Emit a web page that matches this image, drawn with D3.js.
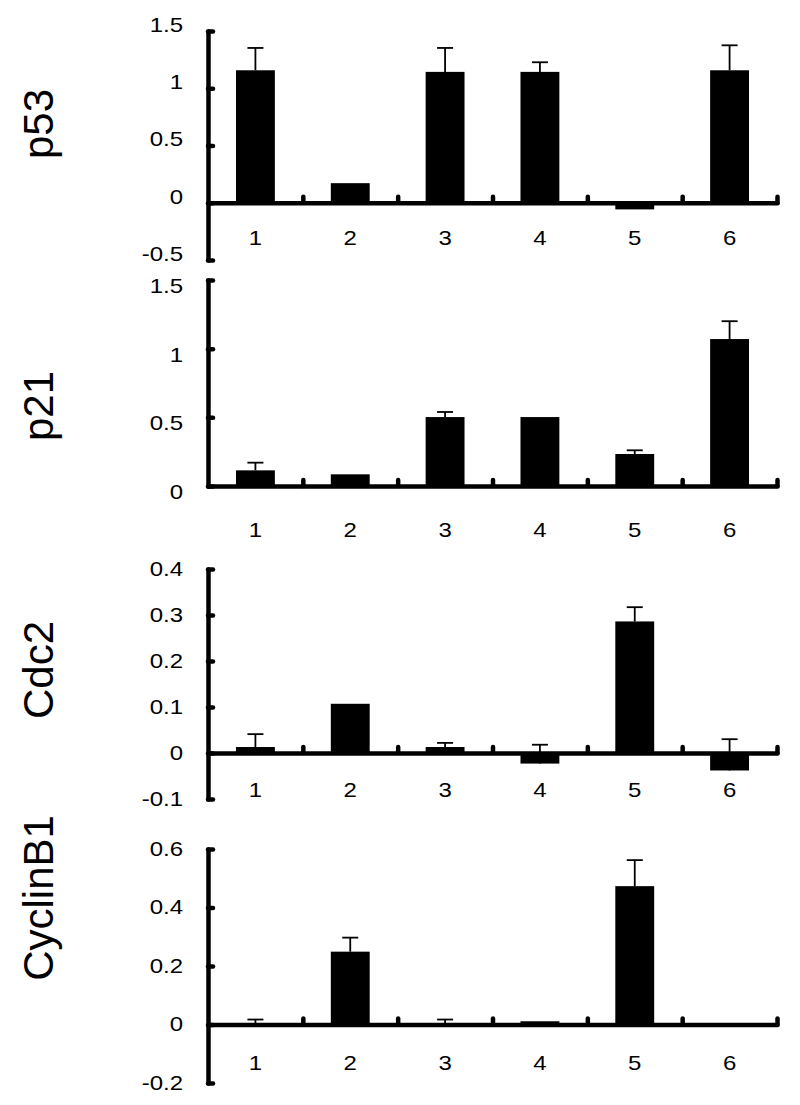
<!DOCTYPE html>
<html>
<head>
<meta charset="utf-8">
<script src="https://cdn.jsdelivr.net/npm/d3@7"></script>
<style>
  html, body { margin: 0; padding: 0; background: #fff; }
  svg text { font-family: "Liberation Sans", Arial, sans-serif; fill: #000; }
</style>
</head>
<body>
<svg id="chart" width="800" height="1105"></svg>
<script>
// ---- data ----
const categories = ["1", "2", "3", "4", "5", "6"];

const p53Values = [1.157, 0.171, 1.143, 1.143, -0.058, 1.157];
const p53Errors = [0.195, 0, 0.209, 0.084, 0, 0.218];
const p53Ticks = [-0.5, 0, 0.5, 1, 1.5];

const p21Values = [0.114, 0.085, 0.502, 0.502, 0.233, 1.07];
const p21Errors = [0.056, 0, 0.037, 0, 0.027, 0.13];
const p21Ticks = [0, 0.5, 1, 1.5];

const cdc2Values = [0.013, 0.107, 0.013, -0.023, 0.286, -0.038];
const cdc2Errors = [0.028, 0, 0.009, 0.041, 0.031, 0.068];
const cdc2Ticks = [-0.1, 0, 0.1, 0.2, 0.3, 0.4];

const cyclinValues = [0.002, 0.249, 0.002, 0.011, 0.473, 0.001];
const cyclinErrors = [0.015, 0.048, 0.015, 0, 0.089, 0];
const cyclinTicks = [-0.2, 0, 0.2, 0.4, 0.6];

const panelNames = ["p53", "p21", "Cdc2", "CyclinB1"];

// ---- layout ----
const axisX = 208, axisRight = 777;
const textStretch = 1.2;
const layout = [
  { name: panelNames[0], values: p53Values, errors: p53Errors, ticks: p53Ticks, yTop: 31, yBottom: 260, labelY: 238, titleY: 124, tickShift: -6 },
  { name: panelNames[1], values: p21Values, errors: p21Errors, ticks: p21Ticks, yTop: 280, yBottom: 486, labelY: 530, titleY: 406, tickShift: 6 },
  { name: panelNames[2], values: cdc2Values, errors: cdc2Errors, ticks: cdc2Ticks, yTop: 569, yBottom: 799, labelY: 790, titleY: 670, tickShift: 0 },
  { name: panelNames[3], values: cyclinValues, errors: cyclinErrors, ticks: cyclinTicks, yTop: 849, yBottom: 1083, labelY: 1063, titleY: 898, tickShift: 0 }
];

const svg = d3.select("#chart");

const x = d3.scaleBand().domain(categories).range([axisX, axisRight])
  .paddingInner(0.59).paddingOuter(0.295);
const xBound = d3.scaleLinear().domain([0, categories.length]).range([axisX, axisRight]);

layout.forEach(p => {
  const ext = d3.extent(p.ticks);
  const y = d3.scaleLinear().domain(ext).range([p.yBottom, p.yTop]);
  const g = svg.append("g");
  const data = categories.map((c, i) => ({ c, v: p.values[i], e: p.errors[i] }));

  // bars
  g.selectAll("rect.bar").data(data).join("rect")
    .attr("class", "bar")
    .attr("x", d => x(d.c))
    .attr("width", x.bandwidth())
    .attr("y", d => y(Math.max(0, d.v)))
    .attr("height", d => Math.abs(y(d.v) - y(0)))
    .attr("fill", "#000");

  // error bars
  const eb = g.selectAll("g.err").data(data.filter(d => d.e > 0)).join("g").attr("class", "err");
  eb.append("line")
    .attr("x1", d => x(d.c) + x.bandwidth() / 2)
    .attr("x2", d => x(d.c) + x.bandwidth() / 2)
    .attr("y1", d => y(d.v))
    .attr("y2", d => y(d.v + d.e))
    .attr("stroke", "#000").attr("stroke-width", 1.8);
  eb.append("line")
    .attr("x1", d => x(d.c) + x.bandwidth() / 2 - 8)
    .attr("x2", d => x(d.c) + x.bandwidth() / 2 + 8)
    .attr("y1", d => y(d.v + d.e))
    .attr("y2", d => y(d.v + d.e))
    .attr("stroke", "#000").attr("stroke-width", 1.8);

  // y axis
  const yAxis = d3.axisLeft(y).tickValues(p.ticks)
    .tickSizeInner(-5).tickSizeOuter(0).tickPadding(25)
    .tickFormat(d => String(d));
  const ya = g.append("g").attr("transform", `translate(${axisX},0)`).call(yAxis);
  ya.select(".domain").attr("stroke-width", 4.5).attr("stroke-linecap", "round");
  ya.selectAll(".tick line").attr("stroke-width", 4.5).attr("stroke-linecap", "round");
  ya.selectAll(".tick text")
    .style("font-family", "'Liberation Sans', Arial, sans-serif")
    .style("font-size", "20px").attr("fill", "#000")
    .attr("x", -25 / textStretch)
    .attr("y", p.tickShift)
    .attr("transform", `scale(${textStretch},1)`);

  // x axis at zero
  const xAxis = d3.axisBottom(xBound).tickValues(d3.range(1, categories.length + 1))
    .tickSizeInner(-6).tickSizeOuter(0).tickFormat("");
  const xa = g.append("g").attr("transform", `translate(0,${y(0)})`).call(xAxis);
  xa.select(".domain").attr("stroke-width", 4.5).attr("stroke-linecap", "round");
  xa.selectAll(".tick line").attr("stroke-width", 4.5).attr("stroke-linecap", "round");

  // category labels
  g.selectAll("text.cat").data(categories).join("text")
    .attr("class", "cat")
    .attr("transform", c => `translate(${x(c) + x.bandwidth() / 2},${p.labelY}) scale(${textStretch},1)`)
    .attr("dy", "0.35em")
    .attr("text-anchor", "middle")
    .style("font-size", "20px")
    .text(c => c);

  // panel title (rotated)
  g.append("text")
    .attr("transform", `translate(53,${p.titleY}) rotate(-90)`)
    .attr("text-anchor", "middle")
    .style("font-size", "42px")
    .text(p.name);
});
</script>
</body>
</html>
